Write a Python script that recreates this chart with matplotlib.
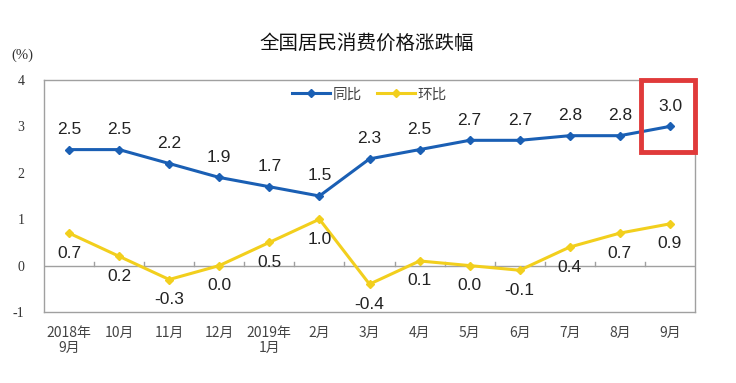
import matplotlib
matplotlib.use("Agg")
import matplotlib.pyplot as plt
from matplotlib.patches import Rectangle

plt.rcParams['font.family'] = ['Noto Sans CJK SC', 'DejaVu Sans']

categories = ["2018年\n9月", "10月", "11月", "12月", "2019年\n1月", "2月", "3月",
              "4月", "5月", "6月", "7月", "8月", "9月"]
yoy = [2.5, 2.5, 2.2, 1.9, 1.7, 1.5, 2.3, 2.5, 2.7, 2.7, 2.8, 2.8, 3.0]
mom = [0.7, 0.2, -0.3, 0.0, 0.5, 1.0, -0.4, 0.1, 0.0, -0.1, 0.4, 0.7, 0.9]
yticks = [-1, 0, 1, 2, 3, 4]

blue = "#1a5fb4"
yellow = "#f2cf1d"
grey = "#a0a0a0"

fig = plt.figure(figsize=(7.36, 3.83), dpi=100)
ax = fig.add_axes([44/736, 1-312/383, (695-44)/736, (312-80)/383])

x = list(range(len(categories)))
ax.plot(x, yoy, color=blue, lw=2.2, marker='D', ms=4.5, label="同比", zorder=3)
ax.plot(x, mom, color=yellow, lw=2.2, marker='D', ms=4.5, label="环比", zorder=3)

for xi, v in zip(x, yoy):
    ax.annotate(f"{v:.1f}", (xi, v), xytext=(0, 9), textcoords='offset points',
                ha='center', va='bottom', fontsize=12.5, color="#222222",
                family=['Liberation Sans'])
for xi, v in zip(x, mom):
    ax.annotate(f"{v:.1f}", (xi, v), xytext=(0, -9), textcoords='offset points',
                ha='center', va='top', fontsize=12.5, color="#222222",
                family=['Liberation Sans'])

ax.set_xlim(-0.5, len(categories) - 0.5)
ax.set_ylim(-1, 4)
ax.set_yticks(yticks)
ax.set_yticklabels([str(t) for t in yticks], family=['Liberation Serif'], fontsize=10, color="#333333")
ax.tick_params(axis='y', length=0, pad=14)
ax.set_xticks(x)
ax.set_xticklabels(categories, fontsize=10, color="#444444", linespacing=1.1)
ax.tick_params(axis='x', length=0, pad=10)

for s in ax.spines.values():
    s.set_color(grey)
    s.set_linewidth(1.0)

# zero line with small tick marks between categories
ax.axhline(0, color=grey, lw=1.0, zorder=1)
for xb in [i + 0.5 for i in range(len(categories) - 1)]:
    ax.plot([xb, xb], [0, 0.07], color=grey, lw=1.0, zorder=1)

# highlight box around last point
box = Rectangle((11.42, 2.45), 1.08, 1.55, fill=False, edgecolor="#e03a3a", lw=3.5,
                transform=ax.transData, zorder=4, clip_on=False)
ax.add_patch(box)

leg = ax.legend(loc='upper center', bbox_to_anchor=(0.50, 1.025), ncol=2, frameon=False,
                fontsize=10.5, handlelength=2.6, columnspacing=1.0, handletextpad=0.2,
                labelcolor="#444444")

fig.text(367/736, 1-43/383, "全国居民消费价格涨跌幅", ha='center', va='center', fontsize=14, color="#111111")
fig.text(22/736, 1-55/383, "(%)", ha='center', va='center', fontsize=10.5, color="#333333",
         family=['Liberation Serif'])

fig.savefig("out.png", dpi=100)
